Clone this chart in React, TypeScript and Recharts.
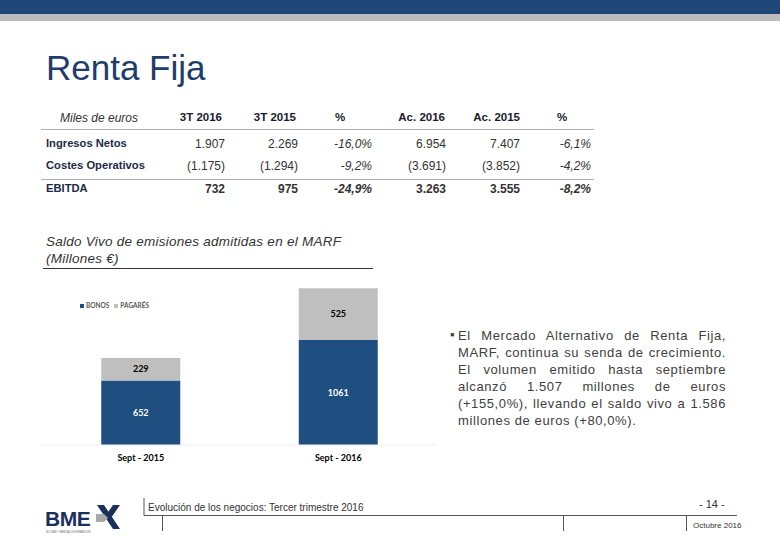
import React from "react";
import { BarChart, Bar, XAxis, YAxis, Legend, LabelList } from "recharts";

const categories = ["Sept - 2015", "Sept - 2016"];
const bonos = [652, 1061];
const pagares = [229, 525];

const tableHeaders = ["3T 2016", "3T 2015", "%", "Ac. 2016", "Ac. 2015", "%"];
const rowLabels = ["Ingresos Netos", "Costes Operativos", "EBITDA"];
const ingresosNetos = ["1.907", "2.269", "-16,0%", "6.954", "7.407", "-6,1%"];
const costesOperativos = ["(1.175)", "(1.294)", "-9,2%", "(3.691)", "(3.852)", "-4,2%"];
const ebitda = ["732", "975", "-24,9%", "3.263", "3.555", "-8,2%"];

const chartData = categories.map((name, i) => ({
  name,
  bonos: bonos[i],
  pagares: pagares[i],
}));

const NAVY = "#1f4777";
const BONOS_COLOR = "#1f4e80";
const PAGARES_COLOR = "#bfbfbf";
const ARIAL = "'Liberation Sans', Arial, sans-serif";
const CALIBRI = "Lato, 'Open Sans', sans-serif";

// right edges of the value columns
const colRight = [225, 298, 372, 446, 520, 591];
const headerPos: { x: number; align: "right" | "left" }[] = [
  { x: 222, align: "right" },
  { x: 296, align: "right" },
  { x: 335, align: "left" },
  { x: 445, align: "right" },
  { x: 520, align: "right" },
  { x: 557, align: "left" },
];
const rowY = [145, 167, 190];

function abs(x: number, y: number, extra: React.CSSProperties = {}): React.CSSProperties {
  return { position: "absolute", left: x, top: y, whiteSpace: "nowrap", ...extra };
}

function LegendContent() {
  const items = [
    { label: "BONOS", color: BONOS_COLOR },
    { label: "PAGARÉS", color: PAGARES_COLOR },
  ];
  return (
    <div style={{ display: "flex", alignItems: "center", gap: 5, fontFamily: CALIBRI, fontSize: 6.5, fontWeight: 700, color: "#595959" }}>
      {items.map((it) => (
        <div key={it.label} style={{ display: "flex", alignItems: "center", gap: 2 }}>
          <div style={{ width: 4, height: 4, background: it.color }} />
          <span>{it.label}</span>
        </div>
      ))}
    </div>
  );
}

export default function App() {
  const rows = [ingresosNetos, costesOperativos, ebitda];
  return (
    <div style={{ position: "absolute", left: 0, top: 0, width: 780, height: 540, background: "#fff", overflow: "hidden", fontFamily: ARIAL }}>
      {/* header bands */}
      <div style={{ position: "absolute", left: 0, top: 0, width: 780, height: 14, background: NAVY }} />
      <div style={{ position: "absolute", left: 0, top: 14, width: 780, height: 7, background: "#bcbcbc" }} />

      <div style={abs(46, 48, { fontSize: 35, color: "#1f3d6b", letterSpacing: 0 })}>Renta Fija</div>

      {/* table */}
      <div style={abs(60, 111, { fontSize: 12, fontStyle: "italic", color: "#333" })}>Miles de euros</div>
      {tableHeaders.map((h, i) => {
        const p = headerPos[i];
        return (
          <div key={i} style={abs(p.align === "right" ? p.x - 80 : p.x, 111, { width: p.align === "right" ? 80 : undefined, textAlign: p.align, fontSize: 11.5, fontWeight: 700, color: "#1a1a2e" })}>
            {h}
          </div>
        );
      })}
      <div style={{ position: "absolute", left: 41, top: 129, width: 553, height: 1, background: "#b0b0b0" }} />
      <div style={{ position: "absolute", left: 41, top: 179, width: 553, height: 1, background: "#b0b0b0" }} />
      {rowLabels.map((label, r) => (
        <div key={label} style={abs(46, rowY[r] - 8, { fontSize: 11.2, fontWeight: 700, color: "#1c2a48" })}>{label}</div>
      ))}
      {rows.map((vals, r) =>
        vals.map((v, c) => (
          <div key={r + "-" + c} style={abs(colRight[c] - 80, rowY[r] - 8, { width: 80, textAlign: "right", fontSize: 12, fontWeight: r === 2 ? 700 : 400, color: "#333", fontStyle: c === 2 || c === 5 ? "italic" : "normal" })}>
            {v}
          </div>
        ))
      )}

      {/* chart title */}
      <div style={abs(46, 233, { fontSize: 13.5, fontStyle: "italic", color: "#333", lineHeight: "17px", whiteSpace: "normal", width: 340, letterSpacing: 0.25 })}>
        Saldo Vivo de emisiones admitidas en el MARF<br />(Millones €)
      </div>
      <div style={{ position: "absolute", left: 43, top: 268, width: 330, height: 1, background: "#333" }} />

      <div style={{ position: "absolute", left: 42, top: 267 }}>
        <BarChart width={395} height={210} data={chartData} margin={{ top: 0, right: 0, left: 0, bottom: 0 }} barCategoryGap="30%">
          <YAxis hide domain={[0, 1800]} />
          <XAxis
            dataKey="name"
            axisLine={{ stroke: "#eeeeee" }}
            tickLine={false}
            height={32}
            tickMargin={4}
            tick={{ fontSize: 9, fontWeight: 700, fill: "#000", fontFamily: CALIBRI }}
          />
          <Legend
            layout="horizontal"
            verticalAlign="middle"
            align="center"
            content={<LegendContent />}
            wrapperStyle={{ top: 35, left: 38, width: "auto", height: "auto" }}
          />
          <Bar dataKey="bonos" name="BONOS" stackId="a" fill={BONOS_COLOR} isAnimationActive={false}>
            <LabelList dataKey="bonos" position="center" fill="#fff" fontSize={9} fontWeight={700} fontFamily={CALIBRI} />
          </Bar>
          <Bar dataKey="pagares" name="PAGARÉS" stackId="a" fill={PAGARES_COLOR} isAnimationActive={false}>
            <LabelList dataKey="pagares" position="center" fill="#000" fontSize={9} fontWeight={700} fontFamily={CALIBRI} />
          </Bar>
        </BarChart>
      </div>

      {/* bullet text */}
      <div style={abs(450, 327, { fontSize: 13, color: "#404040" })}>▪</div>
      <div style={abs(458, 327, { width: 268, whiteSpace: "normal", textAlign: "justify", fontSize: 13, lineHeight: "17px", letterSpacing: 0.6, color: "#404040" })}>
        El Mercado Alternativo de Renta Fija, MARF, continua su senda de crecimiento. El volumen emitido hasta septiembre alcanzó 1.507 millones de euros (+155,0%), llevando el saldo vivo a 1.586 millones de euros (+80,0%).
      </div>

      {/* footer */}
      <svg style={{ position: "absolute", left: 0, top: 0 }} width={780} height={540}>
        <line x1={144} y1={498} x2={144} y2={515.5} stroke="#555" strokeWidth={1} />
        <line x1={144} y1={515.5} x2={737} y2={515.5} stroke="#555" strokeWidth={1} />
        <line x1={162.5} y1={515} x2={162.5} y2={531} stroke="#555" strokeWidth={1} />
        <line x1={563.5} y1={515} x2={563.5} y2={531} stroke="#555" strokeWidth={1} />
        <line x1={686.5} y1={515} x2={686.5} y2={531} stroke="#555" strokeWidth={1} />
        {/* BME logo */}
        <text x={45} y={526} fontFamily={ARIAL} fontWeight={700} fontSize={21} fill="#1c2f5a" letterSpacing={-0.5}>BME</text>
        <text x={46} y={533} fontFamily={ARIAL} fontSize={2.6} fill="#666">BOLSAS Y MERCADOS ESPAÑOLES</text>
        <polygon points="97,505 104,505 120,529 113,529" fill="#1c2f5a" />
        <polygon points="113,505 120,505 111,518 104,518" fill="#1c2f5a" />
        <polygon points="96,514 104,514 108,518 104,522 96,522" fill="#a8a8a8" />
      </svg>
      <div style={abs(148, 502, { fontSize: 10, color: "#333" })}>Evolución de los negocios: Tercer trimestre 2016</div>
      <div style={abs(699, 498, { fontSize: 11, color: "#333" })}>- 14 -</div>
      <div style={abs(693, 521, { fontSize: 8, color: "#333" })}>Octubre 2016</div>
    </div>
  );
}
